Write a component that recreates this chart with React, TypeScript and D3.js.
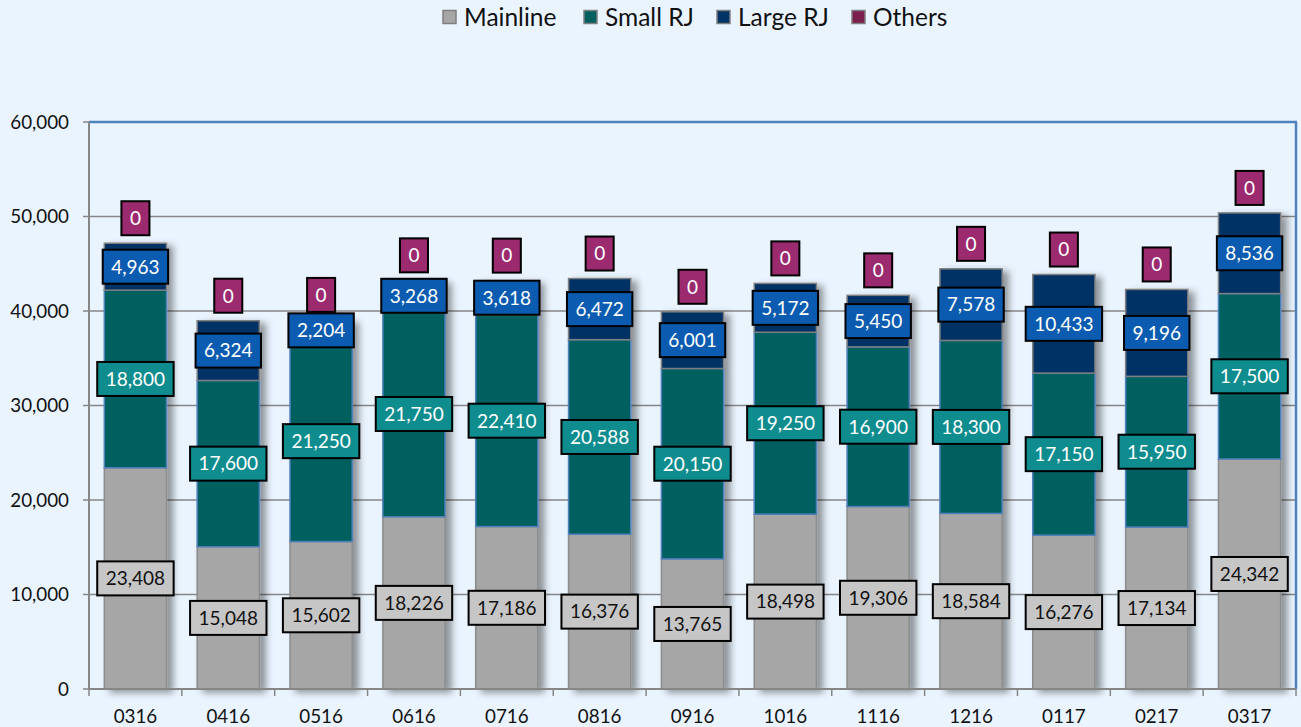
import * as d3 from "d3";
import { useMemo } from "react";

const categories = ["0316", "0416", "0516", "0616", "0716", "0816", "0916", "1016", "1116", "1216", "0117", "0217", "0317"];
const mainline = [23408, 15048, 15602, 18226, 17186, 16376, 13765, 18498, 19306, 18584, 16276, 17134, 24342];
const smallRJ = [18800, 17600, 21250, 21750, 22410, 20588, 20150, 19250, 16900, 18300, 17150, 15950, 17500];
const largeRJ = [4963, 6324, 2204, 3268, 3618, 6472, 6001, 5172, 5450, 7578, 10433, 9196, 8536];
const others = [0, 0, 0, 0, 0, 0, 0, 0, 0, 0, 0, 0, 0];
const yTicks = [0, 10000, 20000, 30000, 40000, 50000, 60000];

const seriesNames = ["Mainline", "Small RJ", "Large RJ", "Others"];
const seriesKeys = ["mainline", "smallRJ", "largeRJ", "others"];
const fills = ["#a6a6a6", "#005f5f", "#003366", "#7b1f4f"];
const strokes = ["#8c8c8c", "#4f81bd", "#7f7f7f", "#7f7f7f"];
const labelFills = ["#c6c6c6", "#0e8c8e", "#0b5cb0", "#9b2a6e"];
const labelText = ["#111", "#fff", "#fff", "#fff"];

const width = 1301;
const height = 727;
const margin = { top: 122, right: 5, bottom: 38, left: 89 };
const font = "Lato, 'Open Sans', sans-serif";

let ctx: CanvasRenderingContext2D | null = null;
function measure(text: string, size: number) {
  if (!ctx) ctx = document.createElement("canvas").getContext("2d");
  if (!ctx) return text.length * size * 0.55;
  ctx.font = `${size}px Lato`;
  return ctx.measureText(text).width;
}

export default function App() {
  const boundsWidth = width - margin.left - margin.right;
  const boundsHeight = height - margin.top - margin.bottom;

  const rows = categories.map((c, i) => ({
    cat: c,
    mainline: mainline[i],
    smallRJ: smallRJ[i],
    largeRJ: largeRJ[i],
    others: others[i],
  }));

  const stacked = useMemo(() => d3.stack<any>().keys(seriesKeys)(rows), []);

  const xScale = d3.scaleBand().domain(categories).range([0, boundsWidth]).paddingInner(0.33).paddingOuter(0.165);
  const bandStep = boundsWidth / categories.length;
  const yScale = d3.scaleLinear().domain([0, 60000]).range([boundsHeight, 0]);
  const fmt = d3.format(",");
  const labelSize = 19;

  return (
    <div style={{ position: "fixed", left: 0, top: 0, background: "#eaf4fe", width, height, overflow: "hidden" }}>
      <svg width={width} height={height} style={{ display: "block", fontFamily: font }}>
        <defs>
          <filter id="shadow" x="-20%" y="-10%" width="150%" height="120%">
            <feDropShadow dx={6} dy={3} stdDeviation={3.5} floodColor="#000" floodOpacity={0.4} />
          </filter>
        </defs>
        <rect width={width} height={height} fill="#eaf4fe" />

        {/* legend */}
        {(() => {
          const xs = [443, 584, 717, 852];
          return seriesNames.map((n, i) => (
            <g key={n} transform={`translate(${xs[i]}, 17)`}>
              <rect x={0} y={-6.5} width={13} height={13} fill={fills[i]} stroke="#7f7f7f" strokeWidth={1.5} />
              <text x={21} y={0} dy="0.35em" fontSize={24.5} fill="#111">
                {n}
              </text>
            </g>
          ));
        })()}

        <g transform={`translate(${margin.left}, ${margin.top})`}>
          {yTicks.map((t) => (
            <g key={t} transform={`translate(0, ${yScale(t)})`}>
              {t > 0 && t < 60000 && <line x1={0} x2={boundsWidth} stroke="#868686" strokeWidth={1.5} />}
              <line x1={-6} x2={0} stroke="#868686" strokeWidth={1.5} />
              <text x={-20} dy="0.35em" textAnchor="end" fontSize={18.8} fill="#111">
                {fmt(t)}
              </text>
            </g>
          ))}
          {/* plot border top/right */}
          <line x1={0} x2={boundsWidth + 1} y1={0} y2={0} stroke="#4f81bd" strokeWidth={2.5} />
          <line x1={boundsWidth} x2={boundsWidth} y1={0} y2={boundsHeight} stroke="#4f81bd" strokeWidth={2.5} />

          {/* bars */}
          {categories.map((c, i) => (
            <g key={c} filter="url(#shadow)">
              {stacked.map((s, si) => {
                const d = s[i];
                const h = yScale(d[0]) - yScale(d[1]);
                if (h <= 0) return null;
                return (
                  <rect
                    key={si}
                    x={xScale(c)}
                    y={yScale(d[1])}
                    width={xScale.bandwidth()}
                    height={h}
                    fill={fills[si]}
                    stroke={strokes[si]}
                    strokeWidth={1.5}
                  />
                );
              })}
            </g>
          ))}

          {/* axes */}
          <line x1={0} x2={0} y1={0} y2={boundsHeight} stroke="#868686" strokeWidth={2} />
          <line x1={0} x2={boundsWidth} y1={boundsHeight} y2={boundsHeight} stroke="#868686" strokeWidth={2} />
          {d3.range(categories.length + 1).map((k) => (
            <line
              key={k}
              x1={k * bandStep}
              x2={k * bandStep}
              y1={boundsHeight}
              y2={boundsHeight + 7}
              stroke="#868686"
              strokeWidth={1.5}
            />
          ))}
          {categories.map((c) => (
            <text
              key={c}
              x={(xScale(c) ?? 0) + xScale.bandwidth() / 2}
              y={boundsHeight + 27}
              dy="0.35em"
              textAnchor="middle"
              fontSize={18.8}
              fill="#111"
            >
              {c}
            </text>
          ))}

          {/* data labels */}
          {categories.map((c, i) =>
            stacked.map((s, si) => {
              const d = s[i];
              const v = d[1] - d[0];
              const cx = (xScale(c) ?? 0) + xScale.bandwidth() / 2;
              const cy = si === 3 ? yScale(d[1]) - 25 : yScale((d[0] + d[1]) / 2);
              const txt = fmt(v);
              const w = measure(txt, labelSize) + 17;
              const h = 34;
              return (
                <g key={`${c}-${si}`} transform={`translate(${cx}, ${cy})`}>
                  <rect x={-w / 2} y={-h / 2} width={w} height={h} fill={labelFills[si]} stroke="#000" strokeWidth={2} />
                  <text dy="0.36em" textAnchor="middle" fontSize={labelSize} fill={labelText[si]}>
                    {txt}
                  </text>
                </g>
              );
            })
          )}
        </g>
      </svg>
    </div>
  );
}
